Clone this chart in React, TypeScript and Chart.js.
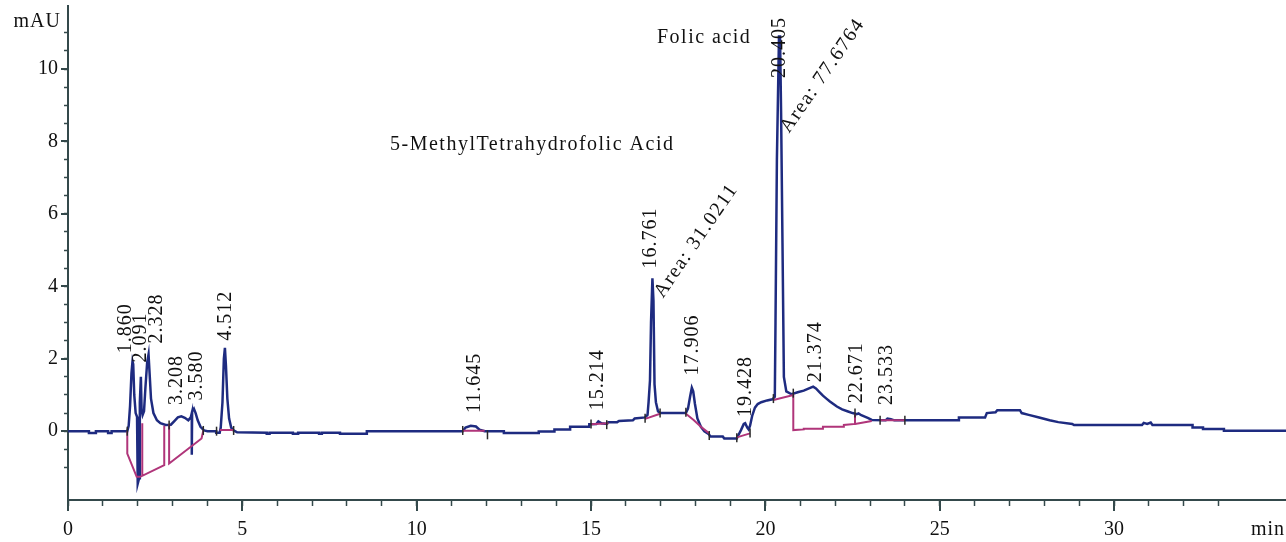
import { useEffect, useRef } from 'react';
import { Chart, registerables } from 'chart.js';

Chart.register(...registerables);

const FONT = "'Liberation Serif', 'Times New Roman', serif";
const INK = '#111111';
const AXIS = '#34494b';
const TRACE = '#1e2b80';
const BASE = '#b0357a';
const MARK = '#2a2a2a';

const X_MIN = 0;
const X_MAX = 34.93;
const Y_MIN = -1.9;
const Y_MAX = 11.74;

// x tick labels (every 5 min)
const xTickLabels = [0, 5, 10, 15, 20, 25, 30];

// Chromatogram trace (time in min, absorbance in mAU)
const traceTime = [
  0, 0.6, 0.6, 0.8, 0.8, 1.15, 1.15, 1.25, 1.25, 1.7, 1.74, 1.78, 1.82, 1.85, 1.87, 1.9, 1.94, 1.98, 2.0, 2.04,
  2.06, 2.09, 2.11, 2.14, 2.18, 2.22, 2.27, 2.31, 2.34, 2.38, 2.45, 2.55, 2.65, 2.8, 2.95, 3.05, 3.15, 3.25, 3.35, 3.45,
  3.52, 3.55, 3.55, 3.56, 3.61, 3.66, 3.72, 3.8, 3.9, 4.0, 4.25, 4.25, 4.35, 4.38, 4.43, 4.47, 4.5, 4.53, 4.57, 4.62,
  4.68, 4.75, 4.85, 5.7, 5.7, 5.78, 5.78, 6.45, 6.45, 6.6, 6.6, 7.2, 7.2, 7.28, 7.28, 7.8, 7.8, 8.57, 8.57, 11.32,
  11.4, 11.55, 11.7, 11.8, 11.95, 12.5, 12.5, 13.5, 13.5, 13.95, 13.95, 14.4, 14.4, 14.95, 14.95, 15.15, 15.21, 15.3, 15.45, 15.5,
  15.75, 15.8, 16.2, 16.25, 16.55, 16.62, 16.65, 16.69, 16.72, 16.76, 16.79, 16.82, 16.86, 16.92, 16.98, 17.72, 17.78, 17.84, 17.89, 17.93,
  17.98, 18.05, 18.15, 18.25, 18.38, 18.42, 18.78, 18.82, 19.18, 19.22, 19.3, 19.38, 19.42, 19.48, 19.52, 19.56, 19.62, 19.7, 19.78, 19.88,
  20.05, 20.2, 20.27, 20.29, 20.33, 20.39, 20.42, 20.45, 20.49, 20.53, 20.6, 20.75, 20.95, 21.1, 21.25, 21.37, 21.45, 21.55, 21.65, 21.75,
  21.85, 21.95, 22.05, 22.2, 22.35, 22.5, 22.62, 22.67, 22.75, 22.85, 22.95, 23.05, 23.45, 23.5, 23.6, 23.7, 25.55, 25.55, 26.3, 26.35,
  26.6, 26.65, 27.3, 27.35, 27.55, 27.85, 28.15, 28.4, 28.8, 28.85, 30.8, 30.85, 30.95, 31.05, 31.1, 32.25, 32.25, 32.55, 32.55, 33.15,
  33.15, 34.93,
];
const traceValue = [
  0, 0, -0.05, -0.05, 0, 0, -0.05, -0.05, 0, 0, 0.15, 0.7, 1.6, 1.93, 1.85, 1.0, 0.5, 0.4, -1.45, -1.3,
  0.8, 1.5, 0.6, 0.45, 0.55, 1.2, 1.9, 2.12, 1.6, 0.9, 0.5, 0.3, 0.22, 0.17, 0.18, 0.28, 0.38, 0.41, 0.37, 0.3,
  0.38, 0.5, -0.65, 0.55, 0.62, 0.5, 0.3, 0.12, 0.02, 0, 0, -0.04, -0.04, 0.1, 0.8, 2.0, 2.3, 1.8, 0.9, 0.35,
  0.1, 0.02, -0.03, -0.04, -0.07, -0.07, -0.04, -0.04, -0.07, -0.07, -0.04, -0.04, -0.07, -0.07, -0.04, -0.04, -0.07, -0.07, 0.0, 0.0,
  0.1, 0.15, 0.13, 0.04, 0.0, 0.0, -0.05, -0.05, -0.01, -0.01, 0.05, 0.05, 0.12, 0.12, 0.19, 0.2, 0.27, 0.22, 0.2, 0.25,
  0.25, 0.28, 0.3, 0.35, 0.38, 0.45, 0.8, 1.4, 3.0, 4.22, 3.6, 1.3, 0.8, 0.55, 0.5, 0.5, 0.62, 0.95, 1.2, 1.1,
  0.75, 0.35, 0.12, 0.0, -0.08, -0.15, -0.15, -0.2, -0.2, -0.12, 0.03, 0.2, 0.22, 0.1, 0.05, 0.15, 0.42, 0.65, 0.75, 0.8,
  0.85, 0.88, 0.95, 3.0, 7.5, 10.9, 10.9, 8.8, 5.2, 1.5, 1.1, 1.02, 1.08, 1.12, 1.18, 1.23, 1.18, 1.08, 0.98, 0.9,
  0.82, 0.75, 0.68, 0.6, 0.55, 0.5, 0.47, 0.49, 0.44, 0.4, 0.36, 0.31, 0.3, 0.35, 0.33, 0.3, 0.3, 0.38, 0.38, 0.5,
  0.52, 0.58, 0.58, 0.5, 0.45, 0.38, 0.3, 0.25, 0.2, 0.17, 0.17, 0.23, 0.2, 0.24, 0.17, 0.17, 0.1, 0.1, 0.06, 0.06,
  0.01, 0.01,
];

// Integration baselines: [time, value]; [null, null] breaks the line between segments
const baseSegments: (number | null)[][] = [
  [1.7, 0], [1.7, -0.62], [1.97, -1.26], [2.07, -1.26], [2.76, -0.94], [2.76, 0.15], [null, null],
  [2.13, -1.25], [2.13, 0.22], [null, null],
  [2.9, 0.2], [2.9, -0.89], [3.83, -0.2], [3.88, 0.02], [null, null],
  [4.35, 0.03], [4.75, 0.03], [null, null],
  [11.32, 0.01], [11.95, 0.01], [null, null],
  [15.0, 0.19], [15.5, 0.22], [null, null],
  [16.55, 0.34], [16.98, 0.48], [null, null],
  [17.72, 0.48], [17.95, 0.3], [18.15, 0.12], [18.39, -0.06], [null, null],
  [19.18, -0.17], [19.56, -0.06], [null, null],
  [20.23, 0.86], [20.8, 1.0], [20.8, 0.03], [21.1, 0.05], [21.1, 0.07], [21.65, 0.07], [21.65, 0.12],
  [22.25, 0.12], [22.25, 0.17], [22.57, 0.2], [22.57, 0.47], [null, null],
  [22.57, 0.2], [23.05, 0.28], [null, null],
  [23.29, 0.3], [24.0, 0.3],
];

// Peak start / end markers
const markerTime = [1.7, 2.9, 3.88, 4.26, 4.75, 11.32, 12.03, 15.0, 15.45, 16.55, 16.98, 17.72, 18.39, 19.18, 19.56, 20.23, 20.8, 22.57, 23.29, 24.0];
const markerValue = [0.0, 0.17, 0.02, 0.0, 0.02, 0.02, -0.1, 0.2, 0.18, 0.36, 0.5, 0.52, -0.12, -0.18, -0.05, 0.9, 1.05, 0.5, 0.3, 0.3];

// Peak retention-time labels
const peakNames = ['1.860', '2.091', '2.328', '3.208', '3.580', '4.512', '11.645', '15.214', '16.761', '17.906', '19.428', '20.405', '21.374', '22.671', '23.533'];
const peakTime = [1.86, 2.091, 2.328, 3.208, 3.58, 4.512, 11.645, 15.214, 16.761, 17.906, 19.428, 20.405, 21.374, 22.671, 23.533];
const peakLabelBase = [2.15, 1.9, 2.42, 0.72, 0.85, 2.5, 0.5, 0.58, 4.49, 1.54, 0.39, 9.75, 1.35, 0.77, 0.72];
const peakLabelShift = [-7, 0, 8, -3, 4, 0, 1, -1, -2, 0, 0, 0, 2, -2, -2];

// Area annotations
const areaTexts = ['Area: 31.0211', 'Area: 77.6764'];
const areaTime = [17.06, 20.68];
const areaValue = [3.66, 8.21];

// Compound names
const compoundNames = ['Folic acid', '5-MethylTetrahydrofolic Acid'];
const compoundTime = [16.89, 9.235];
const compoundValue = [10.72, 7.77];

const yTitle = 'mAU';
const xTitle = 'min';

const annotations = {
  id: 'annotations',
  afterDraw(chart: any) {
    const { ctx, chartArea, scales } = chart;
    const x = scales.x;
    const y = scales.y;
    ctx.save();
    // longer major ticks
    ctx.strokeStyle = AXIS;
    ctx.lineWidth = 2;
    for (let v = 0; v <= X_MAX; v += 5) {
      const px = Math.round(x.getPixelForValue(v));
      ctx.beginPath();
      ctx.moveTo(px, chartArea.bottom);
      ctx.lineTo(px, chartArea.bottom + 11);
      ctx.stroke();
    }
    for (let v = 0; v <= 10; v += 2) {
      const py = Math.round(y.getPixelForValue(v));
      ctx.beginPath();
      ctx.moveTo(chartArea.left - 7, py);
      ctx.lineTo(chartArea.left, py);
      ctx.stroke();
    }

    ctx.fillStyle = INK;
    ctx.font = `20px ${FONT}`;

    // x tick labels
    ctx.textAlign = 'center';
    ctx.textBaseline = 'middle';
    xTickLabels.forEach((v) => {
      ctx.fillText(String(v), x.getPixelForValue(v), chartArea.bottom + 30);
    });

    (ctx as any).letterSpacing = '1px';
    peakNames.forEach((name, i) => {
      const px = x.getPixelForValue(peakTime[i]) + peakLabelShift[i];
      const py = y.getPixelForValue(peakLabelBase[i]);
      ctx.save();
      ctx.translate(px, py);
      ctx.rotate(-Math.PI / 2);
      ctx.textAlign = 'left';
      ctx.textBaseline = 'middle';
      ctx.fillText(name, 0, 0);
      ctx.restore();
    });

    (ctx as any).letterSpacing = '1.5px';
    areaTexts.forEach((t, i) => {
      const px = x.getPixelForValue(areaTime[i]);
      const py = y.getPixelForValue(areaValue[i]);
      ctx.save();
      ctx.translate(px, py);
      ctx.rotate((-55.5 * Math.PI) / 180);
      ctx.textAlign = 'left';
      ctx.textBaseline = 'alphabetic';
      ctx.fillText(t, 0, 0);
      ctx.restore();
    });

    compoundNames.forEach((t, i) => {
      ctx.textAlign = 'left';
      ctx.textBaseline = 'alphabetic';
      ctx.fillText(t, x.getPixelForValue(compoundTime[i]), y.getPixelForValue(compoundValue[i]));
    });

    (ctx as any).letterSpacing = '1px';
    ctx.textAlign = 'right';
    ctx.textBaseline = 'middle';
    ctx.fillText(yTitle, chartArea.left - 7, 22);
    ctx.fillText(xTitle, chart.width - 1, chartArea.bottom + 30);
    ctx.restore();
  },
};

const isMult = (v: number, step: number) => Math.abs(v / step - Math.round(v / step)) < 1e-6;

export default function App() {
  const ref = useRef<HTMLCanvasElement>(null);

  useEffect(() => {
    document.body.style.margin = '0';
    const canvas = ref.current;
    if (!canvas) return;
    const chart = new Chart(canvas, {
      type: 'line',
      data: {
        datasets: [
          {
            label: 'markers',
            data: markerTime.map((t, i) => ({ x: t, y: markerValue[i] })),
            showLine: false,
            pointStyle: 'line',
            rotation: 90,
            pointRadius: 4.5,
            borderColor: MARK,
            backgroundColor: MARK,
            borderWidth: 1.5,
            order: 0,
          },
          {
            label: 'baseline',
            data: baseSegments.map(([t, v]) => ({ x: t as any, y: v as any })),
            borderColor: BASE,
            borderWidth: 2,
            pointRadius: 0,
            spanGaps: false,
            order: 1,
          },
          {
            label: 'signal',
            data: traceTime.map((t, i) => ({ x: t, y: traceValue[i] })),
            borderColor: TRACE,
            borderWidth: 2.5,
            pointRadius: 0,
            order: 2,
          },
        ],
      },
      options: {
        animation: false,
        responsive: true,
        maintainAspectRatio: false,
        layout: { autoPadding: false, padding: { left: 8, right: 0, top: 6, bottom: 0 } },
        plugins: { legend: { display: false }, tooltip: { enabled: false } },
        elements: { line: { tension: 0 } },
        scales: {
          x: {
            type: 'linear',
            min: X_MIN,
            max: X_MAX,
            afterFit: (s: any) => {
              s.height = 42;
              s.paddingLeft = 0;
              s.paddingRight = 0;
            },
            ticks: {
              display: false,
              stepSize: 1,
              autoSkip: false,
              maxRotation: 0,
              padding: 0,
            },
            grid: {
              drawOnChartArea: false,
              tickLength: 6,
              tickWidth: 1.5,
              tickColor: (c: any) => (c.tick && isMult(c.tick.value, 1) ? AXIS : 'rgba(0,0,0,0)'),
            },
            border: { color: AXIS, width: 2 },
          },
          y: {
            type: 'linear',
            min: Y_MIN,
            max: Y_MAX,
            afterFit: (s: any) => {
              s.width = 60;
              s.paddingTop = 0;
              s.paddingBottom = 0;
            },
            ticks: {
              stepSize: 0.5,
              autoSkip: false,
              callback: (v: any) => (isMult(Number(v), 2) ? String(v) : ''),
              font: { family: FONT, size: 20 },
              color: INK,
              padding: 6,
            },
            grid: {
              drawOnChartArea: false,
              tickLength: 4,
              tickWidth: 1.5,
              tickColor: (c: any) => (c.tick && isMult(c.tick.value, 0.5) ? AXIS : 'rgba(0,0,0,0)'),
            },
            border: { color: AXIS, width: 2 },
          },
        },
      },
      plugins: [annotations],
    });
    return () => chart.destroy();
  }, []);

  return (
    <div style={{ position: 'absolute', left: 0, top: 0, width: 1286, height: 542, background: '#ffffff' }}>
      <canvas ref={ref} style={{ display: 'block' }} />
    </div>
  );
}
